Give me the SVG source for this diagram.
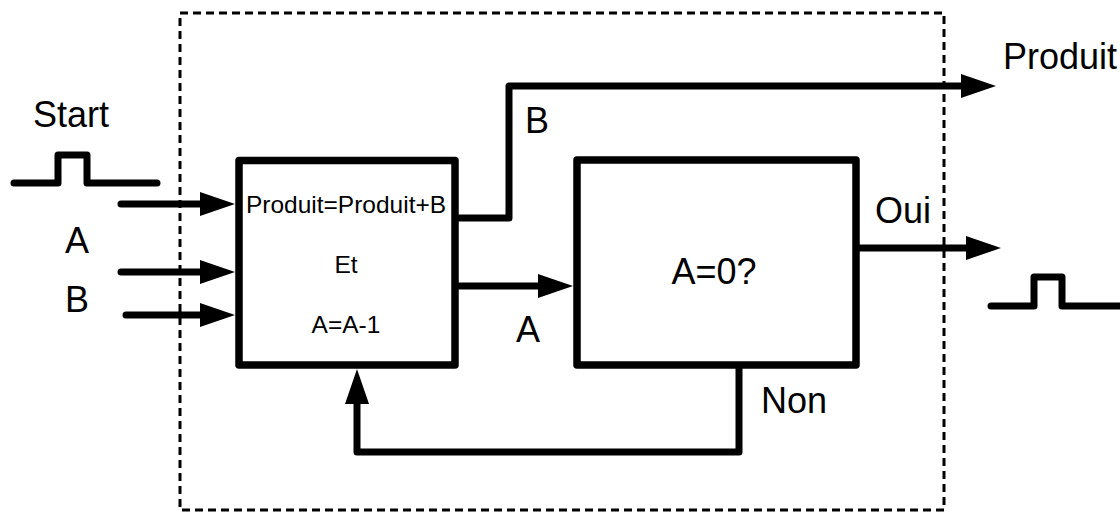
<svg xmlns="http://www.w3.org/2000/svg" width="1120" height="514" viewBox="0 0 1120 514">
<style>
.t{font-family:"Liberation Sans",Arial,sans-serif;fill:#000}
.big{font-size:36px}
.small{font-size:24.5px}
.w{fill:none;stroke:#000;stroke-width:7;stroke-linecap:round;stroke-linejoin:round}
.box{fill:#fff;stroke:#000;stroke-width:7.5;stroke-linejoin:round}
.frame{fill:none;stroke:#000;stroke-width:3;stroke-dasharray:8 5}
</style>
<defs>
<marker id="ah" markerUnits="userSpaceOnUse" markerWidth="36" markerHeight="26" refX="1" refY="12" orient="auto" overflow="visible">
<path d="M0,0 L35,12 L0,24 Z" fill="#000"/>
</marker>
</defs>
<rect width="1120" height="514" fill="#fff"/>
<g id="frame">
<rect class="frame" x="180" y="13" width="764" height="497"/>
</g>
<g id="connectors">
<path class="w" d="M121,204 H201" marker-end="url(#ah)"/>
<path class="w" d="M121,272 H201" marker-end="url(#ah)"/>
<path class="w" d="M126,315 H201" marker-end="url(#ah)"/>
<path class="w" d="M455,218 H509 V86 H962" marker-end="url(#ah)"/>
<path class="w" d="M455,286 H539" marker-end="url(#ah)"/>
<path class="w" d="M856,248 H967" marker-end="url(#ah)"/>
<path class="w" d="M739,365 V452 H357 V403" marker-end="url(#ah)"/>
</g>
<g id="start-pulse">
<path class="w" d="M14,183 H58 V155 H87 V183 H157"/>
<text class="t big" x="33" y="127">Start</text>
</g>
<g id="output-pulse">
<path class="w" d="M991,306 H1034 V277 H1062 V306 H1124"/>
</g>
<g id="labels">
<text class="t big" x="65" y="253">A</text>
<text class="t big" x="65" y="312">B</text>
<text class="t big" x="525" y="133">B</text>
<text class="t big" x="516" y="342">A</text>
<text class="t big" x="1003" y="69">Produit</text>
<text class="t big" x="875" y="223">Oui</text>
<text class="t big" x="761" y="413">Non</text>
</g>
<g id="node-compute">
<rect class="box" x="239" y="160.5" width="216" height="204.5"/>
<text class="t small" x="346" y="213" text-anchor="middle">Produit=Produit+B</text>
<text class="t small" x="346" y="273" text-anchor="middle">Et</text>
<text class="t small" x="346" y="333" text-anchor="middle">A=A-1</text>
</g>
<g id="node-test">
<rect class="box" x="577" y="160" width="279" height="205"/>
<text class="t big" x="714" y="284" text-anchor="middle">A=0?</text>
</g>
</svg>
